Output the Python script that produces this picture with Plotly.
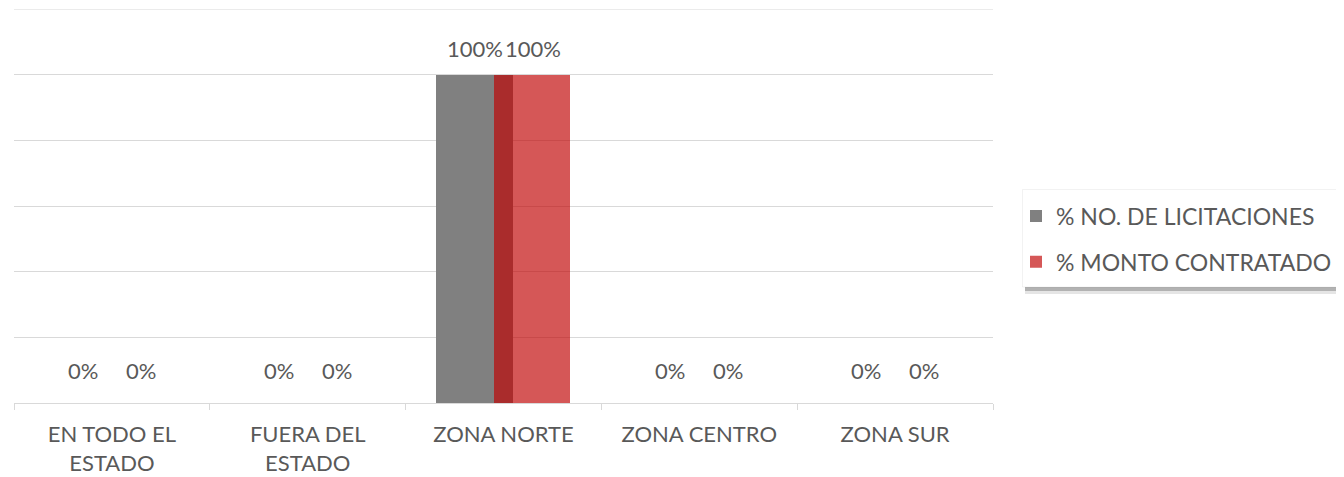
import plotly.graph_objects as go

categories = ["EN TODO EL<br>ESTADO", "FUERA DEL<br>ESTADO", "ZONA NORTE", "ZONA CENTRO", "ZONA SUR"]
pct_licitaciones = [0.0, 0.0, 1.0, 0.0, 0.0]
pct_monto = [0.0, 0.0, 1.0, 0.0, 0.0]
series_names = ["% NO. DE LICITACIONES", "% MONTO CONTRATADO"]
y_max = 1.2

FONT = "Lato, Carlito, Calibri, sans-serif"
TXT = "#595959"
FS = 22

fig = go.Figure()
fig.add_trace(go.Bar(
    x=categories, y=pct_licitaciones, name=series_names[0],
    marker=dict(color="#808080", line=dict(width=0)),
    width=0.393, offset=-0.347, legendgroup="a",
))
fig.add_trace(go.Bar(
    x=categories, y=pct_monto, name=series_names[1],
    marker=dict(color="rgba(192,0,0,0.66)", line=dict(width=0)),
    width=0.393, offset=-0.051, legendgroup="b",
))

annotations = []
for vals, xs in ((pct_licitaciones, -29), (pct_monto, 29)):
    for c, v in zip(categories, vals):
        annotations.append(dict(
            x=c, y=v, xref="x", yref="y", text=f"{v:.0%}", showarrow=False,
            xshift=xs, yshift=(33 if v == 0 else 26), yanchor="middle",
            font=dict(family=FONT, size=FS, color=TXT),
        ))

PW, PH = 979, 394  # plot area in px


def px_x(px):
    return (px - 14) / PW


def px_y(py):
    return (403 - py) / PH


fig.update_layout(
    width=1336, height=469,
    margin=dict(l=6, r=1336 - 6 - PW, t=1, b=469 - 1 - PH),
    paper_bgcolor="white", plot_bgcolor="white",
    barmode="overlay",
    bargap=0,
    annotations=annotations,
    font=dict(family=FONT, size=FS, color=TXT),
    legend=dict(
        x=px_x(1016), y=px_y(239), xanchor="left", yanchor="middle",
        bgcolor="rgba(0,0,0,0)", borderwidth=0,
        traceorder="grouped", tracegroupgap=13,
        font=dict(family=FONT, size=23, color=TXT),
    ),
    xaxis=dict(
        showgrid=False, showline=True, linecolor="#d9d9d9", linewidth=1,
        ticks="outside", tickson="boundaries", ticklen=6, tickcolor="#d9d9d9",
        ticklabelstandoff=12,
        tickfont=dict(family=FONT, size=FS, color=TXT),
    ),
    yaxis=dict(
        range=[0, y_max + 0.0001], dtick=0.2, showgrid=True, gridcolor="#d9d9d9", gridwidth=1,
        showticklabels=False, zeroline=False, showline=False,
    ),
    shapes=[
        dict(type="line", xref="paper", yref="y", x0=0, x1=1, y0=y_max, y1=y_max,
             line=dict(color="#d9d9d9", width=1), layer="below"),
        dict(type="rect", xref="paper", yref="paper",
             x0=px_x(1025), x1=px_x(1344), y0=px_y(294), y1=px_y(193),
             fillcolor="rgba(0,0,0,0.10)", line=dict(width=0), layer="below"),
        dict(type="rect", xref="paper", yref="paper",
             x0=px_x(1025), x1=px_x(1342.5), y0=px_y(291), y1=px_y(192),
             fillcolor="rgba(0,0,0,0.22)", line=dict(width=0), layer="below"),
        dict(type="rect", xref="paper", yref="paper",
             x0=px_x(1022.5), x1=px_x(1340), y0=px_y(287), y1=px_y(189.5),
             fillcolor="white", line=dict(color="rgba(0,0,0,0.05)", width=1), layer="below"),
    ],
)

fig.write_html("out.html")
